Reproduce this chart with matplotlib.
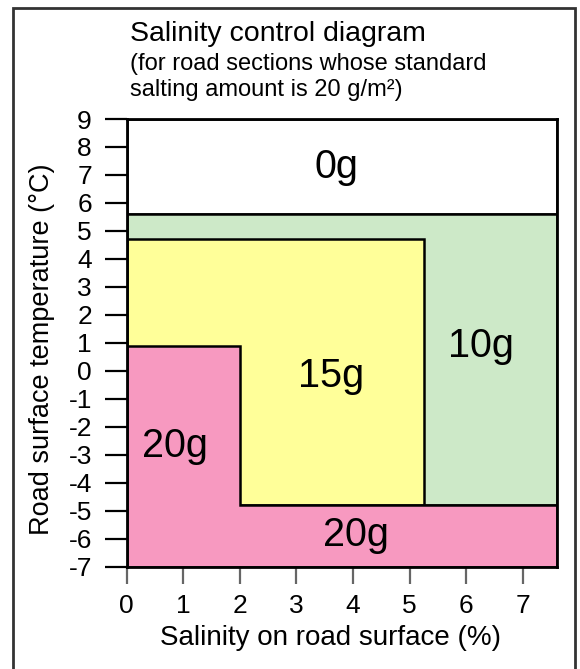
import matplotlib
matplotlib.use("Agg")
import matplotlib.pyplot as plt
from matplotlib.patches import Polygon, Rectangle

plt.rcParams['font.family'] = ['Liberation Sans', 'DejaVu Sans']
plt.rcParams['axes.unicode_minus'] = False

# Salinity (%) / temperature (degC) boundaries of each salting zone
x_max = 7.6
y_min, y_max = -7, 9
zone_names = ['0g', '10g', '15g', '20g']
zone_colors = ['#ffffff', '#cde9c8', '#ffff99', '#f799c0']
# polygons as (salinity, temperature) vertices
zone_0g = [(0, 5.6), (x_max, 5.6), (x_max, 9), (0, 9)]
zone_10g = [(0, -4.8), (x_max, -4.8), (x_max, 5.6), (0, 5.6)]
zone_15g = [(0, -4.8), (5.25, -4.8), (5.25, 4.7), (0, 4.7)]
zone_20g = [(0, -7), (x_max, -7), (x_max, -4.8), (2, -4.8), (2, 0.9), (0, 0.9)]
zone_shapes = [zone_0g, zone_10g, zone_15g, zone_20g]

# label positions in data coords
label_text = ['0g', '10g', '15g', '20g', '20g']
label_x = [3.7, 6.27, 3.62, 0.85, 4.05]
label_y = [7.3, 0.9, -0.2, -2.7, -5.85]

xticks = list(range(0, 8))
yticks = list(range(-7, 10))

fig = plt.figure(figsize=(5.8, 6.69), dpi=100)
ax = fig.add_axes([0.2184, 0.1529, 0.7414, 0.6692])

for shape, color in zip(zone_shapes, zone_colors):
    ax.add_patch(Polygon(shape, closed=True, facecolor=color,
                         edgecolor='black', linewidth=1.8, zorder=2))

for t, x, y in zip(label_text, label_x, label_y):
    ax.text(x, y, t, fontsize=28.5, ha='center', va='center', zorder=3)

ax.set_xlim(0, x_max)
ax.set_ylim(y_min, y_max)
ax.set_xticks(xticks)
ax.set_yticks(yticks)
for s in ax.spines.values():
    s.set_linewidth(2)
    s.set_zorder(4)
ax.tick_params(axis='y', direction='out', length=16, width=1.6, color='black',
               labelsize=19, pad=9)
ax.tick_params(axis='x', direction='out', length=12, width=1.6, color='#666666',
               labelsize=19, pad=8)

ax.set_xlabel('Salinity on road surface (%)', fontsize=20, labelpad=5)
ax.set_ylabel('Road surface temperature (°C)', fontsize=19.5, labelpad=10)
ax.xaxis.label.set_x(0.475)
ax.yaxis.label.set_y(0.486)

fig.text(0.224, 0.938, 'Salinity control diagram', fontsize=20.5, ha='left', va='baseline')
fig.text(0.224, 0.895, '(for road sections whose standard', fontsize=17, ha='left', va='baseline')
fig.text(0.224, 0.857, 'salting amount is 20 g/m²)', fontsize=17, ha='left', va='baseline')

# outer frame
fig.patches.append(Rectangle((13 / 580, -0.05), (575 - 13) / 580, 1.05 - 8 / 669,
                             transform=fig.transFigure, fill=False,
                             edgecolor='#333333', linewidth=2))

fig.savefig('out.png', dpi=100)
